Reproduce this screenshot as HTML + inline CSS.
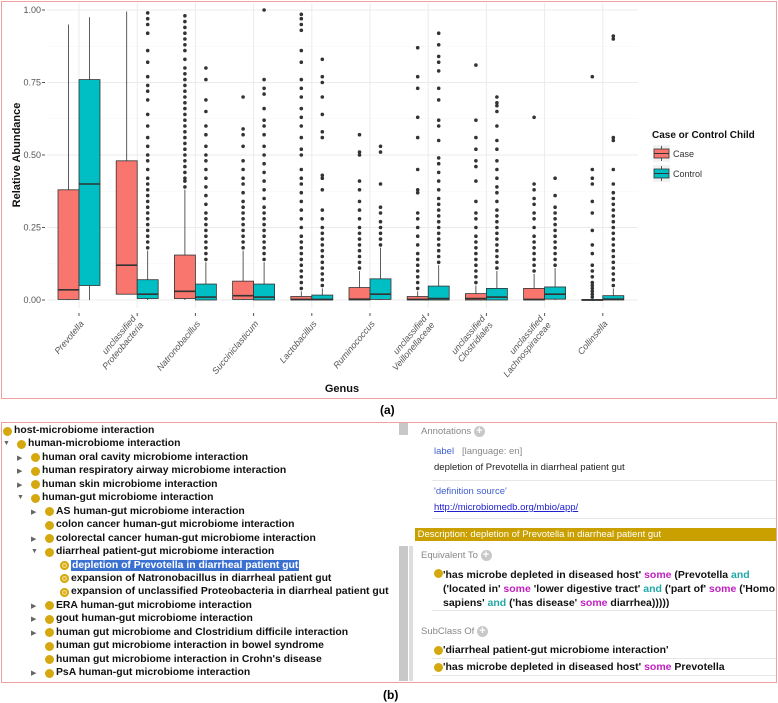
<!DOCTYPE html>
<html><head><meta charset="utf-8"><style>
body{margin:0;width:778px;height:703px;background:#fff;position:relative;overflow:hidden;font-family:"Liberation Sans",sans-serif}
.abs{position:absolute;white-space:nowrap}
.tr{font-weight:bold;font-size:10.4px;color:#111}
.dot{position:absolute;width:9px;height:9px;border-radius:50%;background:#d4a80e}
.dot.s{background:#e2b320;box-shadow:inset 0 0 0 2px #d4a80e,inset 0 0 0 3px #f3df9a}
.tri{position:absolute;font-size:7px;color:#666}
.g{color:#888;font-size:9.5px}
.b{font-weight:bold;font-size:10.5px;color:#111}
.pk{color:#c020c0}.tl{color:#20a8a8}
.plus{display:inline-block;width:11px;height:11px;border-radius:50%;background:#c8c8c8;color:#fff;font-size:11px;line-height:11px;text-align:center;vertical-align:middle;font-weight:bold}
</style></head><body>
<div class="abs" style="left:1px;top:1px;width:774px;height:396px;border:1px solid #f0a0a0"></div>
<svg id="chart" width="778" height="404" style="position:absolute;left:0;top:0"></svg>
<div class="abs" style="left:380px;top:403px;font-weight:bold;font-size:12px">(a)</div>

<div class="abs" style="left:1px;top:422px;width:774px;height:259px;border:1px solid #f0a0a0"></div>
<div class="abs" style="left:399px;top:423px;width:9px;height:12px;background:#c8c8c8"></div>
<div class="abs" style="left:399px;top:546px;width:9px;height:135px;background:#c8c8c8"></div>
<div class="abs" style="left:409px;top:546px;width:4px;height:135px;background:#ddd"></div>
<div id="tree"></div>

<div class="abs g" style="left:421px;top:426px">Annotations <span class="plus">+</span></div>
<div class="abs" style="left:434px;top:446px;font-size:9.5px;color:#4060d0">label &nbsp;&nbsp;<span style="color:#888">[language: en]</span></div>
<div class="abs" style="left:434px;top:462px;font-size:9.5px;color:#222">depletion of Prevotella in diarrheal patient gut</div>
<div class="abs" style="left:432px;top:480px;width:344px;height:1px;background:#e6e6e6"></div>
<div class="abs" style="left:434px;top:486px;font-size:9.5px;color:#4060d0">'definition source'</div>
<div class="abs" style="left:434px;top:502px;font-size:9.5px;color:#2020d0;text-decoration:underline">http://microbiomedb.org/mbio/app/</div>
<div class="abs" style="left:432px;top:518px;width:344px;height:1px;background:#e6e6e6"></div>
<div class="abs" style="left:415px;top:528px;width:361px;height:13px;background:#c9a000;color:#fff;font-size:9.5px;line-height:13px">&nbsp;Description: depletion of Prevotella in diarrheal patient gut</div>
<div class="abs g" style="left:421px;top:550px">Equivalent To <span class="plus">+</span></div>
<div class="dot" style="left:434px;top:569px"></div>
<div class="abs b" style="left:443px;top:568px;line-height:14px">'has microbe depleted in diseased host' <span class="pk">some</span> (Prevotella <span class="tl">and</span><br>('located in' <span class="pk">some</span> 'lower digestive tract' <span class="tl">and</span> ('part of' <span class="pk">some</span> ('Homo<br>sapiens' <span class="tl">and</span> ('has disease' <span class="pk">some</span> diarrhea)))))</div>
<div class="abs" style="left:432px;top:610px;width:344px;height:1px;background:#e6e6e6"></div>
<div class="abs g" style="left:421px;top:626px">SubClass Of <span class="plus">+</span></div>
<div class="dot" style="left:434px;top:646px"></div>
<div class="abs b" style="left:443px;top:644px">'diarrheal patient-gut microbiome interaction'</div>
<div class="abs" style="left:432px;top:658px;width:344px;height:1px;background:#e6e6e6"></div>
<div class="dot" style="left:434px;top:663px"></div>
<div class="abs b" style="left:443px;top:661px">'has microbe depleted in diseased host' <span class="pk">some</span> Prevotella</div>
<div class="abs" style="left:432px;top:675px;width:344px;height:1px;background:#e6e6e6"></div>
<div class="abs" style="left:383px;top:688px;font-weight:bold;font-size:12px">(b)</div>

<script>
const categories=["Prevotella","unclassified|Proteobacteria","Natronobacillus","Succiniclasticum","Lactobacillus","Ruminococcus","unclassified|Veillonellaceae","unclassified|Clostridiales","unclassified|Lachnospiraceae","Collinsella"];
const yTicks=[0,0.25,0.5,0.75,1];
const yTickLabels=["0.00","0.25","0.50","0.75","1.00"];
// [lowWhisker, q1, median, q3, highWhisker]
const caseStats=[[0,0.002,0.035,0.38,0.95],[0.02,0.02,0.12,0.48,0.995],[0,0.005,0.03,0.155,0.38],[0,0.002,0.015,0.065,0.17],[0,0,0.002,0.012,0.03],[0,0,0.003,0.043,0.10],[0,0,0.002,0.012,0.03],[0,0,0.005,0.022,0.05],[0,0,0.002,0.04,0.09],[0,0,0,0.002,0.005]];
const controlStats=[[0,0.05,0.40,0.76,0.975],[0,0.005,0.02,0.07,0.17],[0,0,0.01,0.055,0.13],[0,0,0.01,0.055,0.13],[0,0,0.002,0.017,0.04],[0,0.002,0.02,0.073,0.18],[0,0,0.005,0.048,0.12],[0,0,0.01,0.04,0.10],[0,0.003,0.02,0.045,0.11],[0,0,0.003,0.015,0.04]];
const caseOutliers=[[],[],
[0.39,0.41,0.42,0.44,0.46,0.48,0.5,0.52,0.54,0.56,0.58,0.6,0.62,0.64,0.66,0.68,0.7,0.72,0.74,0.76,0.78,0.8,0.83,0.86,0.88,0.9,0.92,0.94,0.96,0.98],
[0.18,0.2,0.22,0.24,0.26,0.28,0.3,0.32,0.34,0.37,0.4,0.42,0.45,0.48,0.53,0.57,0.59,0.7],
[0.04,0.06,0.08,0.1,0.12,0.14,0.16,0.18,0.2,0.22,0.25,0.28,0.31,0.34,0.37,0.4,0.42,0.45,0.5,0.52,0.56,0.6,0.63,0.66,0.7,0.73,0.76,0.82,0.86,0.93,0.95,0.97,0.985],
[0.11,0.13,0.15,0.17,0.19,0.21,0.23,0.25,0.28,0.31,0.34,0.38,0.41,0.5,0.51,0.57],
[0.04,0.06,0.08,0.1,0.12,0.14,0.16,0.19,0.22,0.25,0.28,0.3,0.37,0.38,0.45,0.56,0.63,0.73,0.77,0.87],
[0.06,0.08,0.1,0.12,0.14,0.16,0.18,0.2,0.22,0.25,0.28,0.3,0.34,0.41,0.46,0.48,0.52,0.56,0.62,0.81],
[0.1,0.12,0.14,0.16,0.18,0.2,0.22,0.25,0.28,0.3,0.33,0.35,0.38,0.4,0.63],
[0.01,0.02,0.03,0.04,0.05,0.06,0.08,0.1,0.12,0.16,0.19,0.24,0.3,0.34,0.4,0.42,0.45,0.77]];
const controlOutliers=[[],
[0.18,0.2,0.22,0.24,0.26,0.28,0.3,0.32,0.34,0.36,0.38,0.4,0.42,0.45,0.48,0.5,0.53,0.56,0.6,0.64,0.69,0.72,0.74,0.77,0.82,0.86,0.92,0.95,0.97,0.99],
[0.14,0.16,0.18,0.2,0.22,0.24,0.26,0.28,0.3,0.33,0.36,0.39,0.42,0.45,0.48,0.5,0.53,0.57,0.6,0.65,0.69,0.76,0.8],
[0.14,0.16,0.18,0.2,0.22,0.24,0.26,0.28,0.3,0.32,0.35,0.38,0.41,0.44,0.47,0.5,0.53,0.57,0.6,0.62,0.66,0.71,0.73,0.76,1.0],
[0.05,0.07,0.09,0.11,0.13,0.15,0.17,0.19,0.21,0.23,0.25,0.28,0.31,0.38,0.42,0.43,0.56,0.58,0.64,0.7,0.75,0.77,0.83],
[0.19,0.21,0.23,0.25,0.27,0.3,0.32,0.4,0.51,0.53],
[0.13,0.15,0.17,0.19,0.21,0.23,0.25,0.27,0.29,0.31,0.33,0.35,0.38,0.41,0.44,0.47,0.49,0.55,0.6,0.62,0.69,0.73,0.79,0.82,0.84,0.88,0.92],
[0.11,0.13,0.15,0.17,0.19,0.21,0.23,0.25,0.27,0.29,0.31,0.34,0.37,0.39,0.42,0.45,0.48,0.52,0.55,0.6,0.65,0.67,0.68,0.7],
[0.12,0.14,0.16,0.18,0.2,0.22,0.24,0.26,0.28,0.3,0.32,0.36,0.42],
[0.05,0.07,0.09,0.11,0.13,0.15,0.17,0.19,0.21,0.23,0.25,0.27,0.29,0.31,0.33,0.35,0.37,0.4,0.45,0.55,0.56,0.9,0.91]];

const NS="http://www.w3.org/2000/svg";
const svg=document.getElementById('chart');
const PX0=47,PX1=638,PY0=300,PY1=10,X0=79,STEP=58.2,BW=21;
function yS(v){return PY0-(PY0-PY1)*v;}
function xS(i){return X0+STEP*i;}
function mk(t,a,p){const e=document.createElementNS(NS,t);for(const k in a)e.setAttribute(k,a[k]);(p||svg).appendChild(e);return e;}
let e;
e=mk('rect',{x:PX0,y:3,width:PX1-PX0,height:305,fill:'#fff'});


yTicks.forEach((v,k)=>{
  if(k<yTicks.length-1){e=mk('line',{x1:PX0,x2:PX1,y1:yS(v+0.125),y2:yS(v+0.125),stroke:'#f4f4f4','stroke-width':0.6});
  }
  e=mk('line',{x1:PX0,x2:PX1,y1:yS(v),y2:yS(v),stroke:'#ebebeb','stroke-width':1});
  
  
  e=mk('text',{x:41,y:yS(v)+3,'font-size':9,fill:'#555','text-anchor':'end'});
  e.textContent=yTickLabels[k];
  
  
  e=mk('line',{x1:42,x2:45,y1:yS(v),y2:yS(v),stroke:'#555'});
  
  
});
categories.forEach((c,i)=>{
  e=mk('line',{x1:xS(i),x2:xS(i),y1:3,y2:308,stroke:'#ebebeb'});
  
  
  e=mk('line',{x1:xS(i),x2:xS(i),y1:313,y2:316,stroke:'#555'});
  
  
  const parts=c.split('|');
  const g=mk('text',{transform:`translate(${xS(i)+3},${322}) rotate(-50)`,'font-size':9,'font-style':'italic',fill:'#555','text-anchor':'end'});
  
  
  parts.forEach((p,j)=>{const ts=mk('tspan',{x:0,dy:j==0?(parts.length==2?-5:3):10},g);ts.textContent=p;});
});
function drawBox(s,outs,cx,fill,name){
  e=mk('line',{x1:cx,x2:cx,y1:yS(s[0]),y2:yS(s[4]),stroke:'#333','stroke-width':0.8});
  
  
  e=mk('rect',{x:cx-BW/2,y:yS(s[3]),width:BW,height:Math.max(1,yS(s[1])-yS(s[3])),fill:fill,stroke:'#333','stroke-width':0.8});
  
  
  e=mk('line',{x1:cx-BW/2,x2:cx+BW/2,y1:yS(s[2]),y2:yS(s[2]),stroke:'#333','stroke-width':1.6});
  
  
  outs.forEach(v=>{
    e=mk('circle',{cx:cx,cy:yS(v),r:1.8,fill:'#333'});
    
    
  });
}
categories.forEach((c,i)=>{
  drawBox(caseStats[i],caseOutliers[i],xS(i)-BW/2,'#f8766d','case');
  drawBox(controlStats[i],controlOutliers[i],xS(i)+BW/2,'#00bfc4','control');
});
e=mk('text',{transform:'translate(20,155) rotate(-90)','font-size':11,'font-weight':'bold','text-anchor':'middle',fill:'#111'});
e.textContent='Relative Abundance';


e=mk('text',{x:342,y:392,'font-size':11,'font-weight':'bold','text-anchor':'middle',fill:'#111'});
e.textContent='Genus';


e=mk('text',{x:652,y:138,'font-size':10,'font-weight':'bold',fill:'#111'});
e.textContent='Case or Control Child';


[['Case','#f8766d',145],['Control','#00bfc4',165]].forEach(([l,c,y])=>{
  e=mk('rect',{x:653,y:y,width:17,height:17,fill:'#f2f2f2'});
  
  
  e=mk('line',{x1:661.5,x2:661.5,y1:y+1,y2:y+16,stroke:'#333','stroke-width':0.8});
  
  
  e=mk('rect',{x:654,y:y+4,width:15,height:9,fill:c,stroke:'#333','stroke-width':0.8});
  
  
  e=mk('line',{x1:654,x2:669,y1:y+8.5,y2:y+8.5,stroke:'#333','stroke-width':1});
  
  
  e=mk('text',{x:673,y:y+12,'font-size':9,fill:'#333'});
  e.textContent=l;
  
  
});

// tree
const treeItems=[[0,"host-microbiome interaction",""],[1,"human-microbiome interaction","v"],[2,"human oral cavity microbiome interaction",">"],[2,"human respiratory airway microbiome interaction",">"],[2,"human skin microbiome interaction",">"],[2,"human-gut microbiome interaction","v"],[3,"AS human-gut microbiome interaction",">"],[3,"colon cancer human-gut microbiome interaction",""],[3,"colorectal cancer human-gut microbiome interaction",">"],[3,"diarrheal patient-gut microbiome interaction","v"],[4,"depletion of Prevotella in diarrheal patient gut","sel"],[4,"expansion of Natronobacillus in diarrheal patient gut","leaf"],[4,"expansion of unclassified Proteobacteria in diarrheal patient gut","leaf"],[3,"ERA human-gut microbiome interaction",">"],[3,"gout human-gut microbiome interaction",">"],[3,"human gut microbiome and Clostridium difficile interaction",">"],[3,"human gut microbiome interaction in bowel syndrome",""],[3,"human gut microbiome interaction in Crohn's disease",""],[3,"PsA human-gut microbiome interaction",">"]];
const tree=document.getElementById('tree');
const dotX=[3,17,31,45,60];
treeItems.forEach(([lv,t,k],i)=>{
  const y=425+i*13.45;
  const d=document.createElement('div');
  d.className='dot'+((k=='sel'||k=='leaf')?' s':'');
  d.style.left=dotX[lv]+'px';d.style.top=(y+1.5)+'px';
  
  
  tree.appendChild(d);
  if(k=='>'||k=='v'){
    const a=document.createElement('div');a.className='tri';a.textContent=k=='>'?'\u25B6':'\u25BC';
    a.style.left=(dotX[lv]-14)+'px';a.style.top=(y+2)+'px';
    
    
    tree.appendChild(a);
  }
  const s=document.createElement('div');s.className='abs tr';
  s.style.left=(dotX[lv]+11)+'px';s.style.top=y+'px';s.textContent=t;
  if(k=='sel'){s.style.background='#3a70d0';s.style.color='#fff';s.style.padding='0 1px';}
  
  
  tree.appendChild(s);
});
</script>
</body></html>
